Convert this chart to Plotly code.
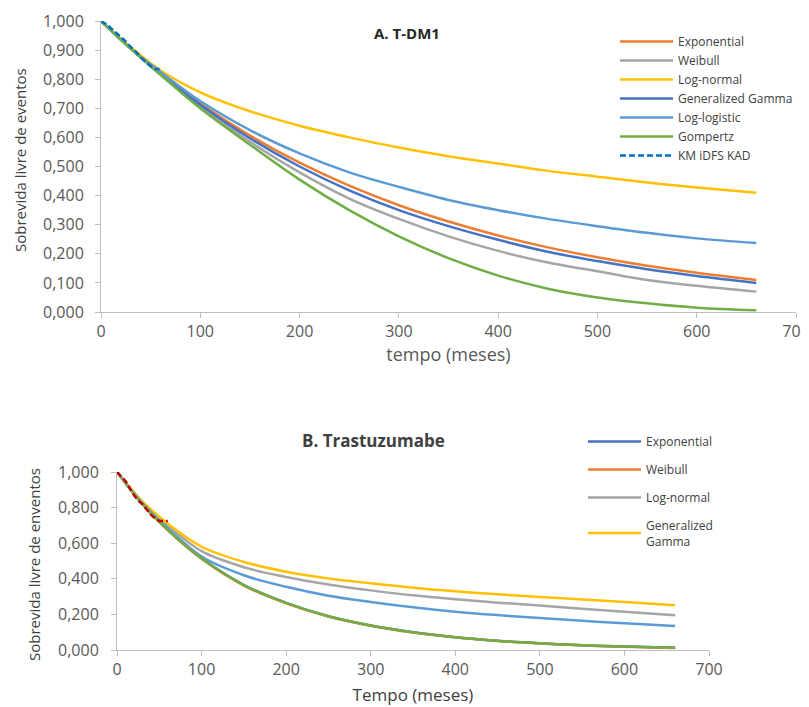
import plotly.graph_objects as go

# ---------------- Data: A. T-DM1 ----------------
t_a = [0, 30, 60, 100, 150, 200, 250, 300, 350, 400, 450, 500, 550, 600, 660]
a_exponential = [1.0, 0.905, 0.818, 0.716, 0.606, 0.513, 0.434, 0.367, 0.311, 0.263, 0.222, 0.188, 0.159, 0.135, 0.110]
a_weibull = [1.0, 0.905, 0.815, 0.705, 0.585, 0.480, 0.390, 0.320, 0.260, 0.210, 0.170, 0.140, 0.110, 0.090, 0.070]
a_lognormal = [1.0, 0.910, 0.830, 0.755, 0.690, 0.640, 0.600, 0.565, 0.535, 0.510, 0.485, 0.465, 0.445, 0.428, 0.410]
a_gengamma = [1.0, 0.905, 0.817, 0.712, 0.597, 0.500, 0.418, 0.350, 0.295, 0.248, 0.207, 0.175, 0.147, 0.124, 0.100]
a_loglogistic = [1.0, 0.905, 0.825, 0.725, 0.625, 0.545, 0.480, 0.430, 0.385, 0.350, 0.320, 0.295, 0.272, 0.253, 0.237]
a_gompertz = [1.0, 0.905, 0.815, 0.700, 0.575, 0.455, 0.350, 0.260, 0.185, 0.125, 0.080, 0.050, 0.030, 0.015, 0.006]
km_a_t = [0, 5, 10, 15, 20, 25, 30, 35, 40, 45, 50, 55, 59]
km_a_s = [1.0, 0.99, 0.975, 0.96, 0.945, 0.93, 0.91, 0.895, 0.875, 0.86, 0.845, 0.835, 0.835]

# ---------------- Data: B. Trastuzumabe ----------------
t_b = [0, 30, 60, 100, 150, 200, 250, 300, 350, 400, 450, 500, 550, 600, 660]
b_exponential = [1.0, 0.82, 0.675, 0.515, 0.365, 0.265, 0.19, 0.138, 0.1, 0.072, 0.052, 0.038, 0.027, 0.019, 0.012]
b_weibull = [1.0, 0.82, 0.673, 0.512, 0.362, 0.262, 0.188, 0.136, 0.098, 0.071, 0.051, 0.037, 0.026, 0.018, 0.011]
b_lognormal = [1.0, 0.83, 0.70, 0.555, 0.465, 0.41, 0.368, 0.335, 0.307, 0.285, 0.266, 0.25, 0.232, 0.215, 0.195]
b_gengamma = [1.0, 0.835, 0.71, 0.58, 0.495, 0.44, 0.402, 0.375, 0.35, 0.33, 0.313, 0.298, 0.284, 0.27, 0.252]
b_loglogistic = [1.0, 0.825, 0.685, 0.525, 0.42, 0.355, 0.305, 0.27, 0.24, 0.215, 0.196, 0.18, 0.164, 0.15, 0.135]
b_gompertz = [1.0, 0.82, 0.675, 0.515, 0.365, 0.265, 0.19, 0.138, 0.1, 0.072, 0.052, 0.038, 0.027, 0.019, 0.012]
km_b_t = [0, 5, 10, 15, 20, 25, 30, 35, 40, 45, 50, 60]
km_b_s = [1.0, 0.975, 0.95, 0.91, 0.87, 0.84, 0.82, 0.79, 0.76, 0.74, 0.725, 0.725]

C_ORANGE = "#ED7D31"
C_GRAY = "#A5A5A5"
C_YELLOW = "#FFC000"
C_DBLUE = "#4472C4"
C_LBLUE = "#5B9BD5"
C_GREEN = "#70AD47"
C_KM_A = "#0070C0"
C_KM_B = "#C00000"

FONT = "'Open Sans', Lato, sans-serif"
TXT = "#595959"
DARK = "#404040"
LW = 2.5
KM_DASH = "6px,3px"

fig = go.Figure()

def add(x, y, name, color, xa, ya, legend, show=True, group=None):
    fig.add_trace(go.Scatter(
        x=x, y=y, name=name, mode="lines", line_shape="spline",
        line=dict(color=color, width=LW),
        xaxis=xa, yaxis=ya, legend=legend, showlegend=show,
        legendgroup=group))

# Panel A
add(t_a, a_exponential, "Exponential", C_ORANGE, "x", "y", "legend")
add(t_a, a_weibull, "Weibull", C_GRAY, "x", "y", "legend")
add(t_a, a_lognormal, "Log-normal", C_YELLOW, "x", "y", "legend")
add(t_a, a_gengamma, "Generalized Gamma", C_DBLUE, "x", "y", "legend")
add(t_a, a_loglogistic, "Log-logistic", C_LBLUE, "x", "y", "legend")
add(t_a, a_gompertz, "Gompertz", C_GREEN, "x", "y", "legend")
fig.add_trace(go.Scatter(x=km_a_t, y=km_a_s, name="KM iDFS KAD", mode="lines",
                         line=dict(color=C_KM_A, width=LW, dash=KM_DASH),
                         xaxis="x", yaxis="y", legend="legend"))

# Panel B
add(t_b, b_exponential, "Exponential", C_DBLUE, "x2", "y2", "legend2", group="e")
add(t_b, b_weibull, "Weibull", C_ORANGE, "x2", "y2", "legend2", group="w")
add(t_b, b_lognormal, "Log-normal", C_GRAY, "x2", "y2", "legend2", group="l")
add(t_b, b_gengamma, "Generalized<br>Gamma", C_YELLOW, "x2", "y2", "legend2", group="g")
add(t_b, b_loglogistic, "Log-logistic", C_LBLUE, "x2", "y2", "legend2", show=False)
add(t_b, b_gompertz, "Gompertz", C_GREEN, "x2", "y2", "legend2", show=False)
fig.add_trace(go.Scatter(x=km_b_t, y=km_b_s, name="KM", mode="lines",
                         line=dict(color=C_KM_B, width=LW, dash=KM_DASH),
                         xaxis="x2", yaxis="y2", legend="legend2", showlegend=False))

W, H = 809, 707
OFF = 8  # page body margin offset
def px(x): return (x - OFF) / W
def py(y): return 1 - (y - OFF) / H

axis_common = dict(showgrid=False, zeroline=False, showline=True, linecolor="#BFBFBF",
                   linewidth=1, ticks="outside", ticklen=5, tickcolor="#BFBFBF",
                   automargin=False,
                   tickfont=dict(family=FONT, size=16, color=TXT))

fig.update_layout(
    width=W, height=H, margin=dict(l=0, r=0, t=0, b=0),
    paper_bgcolor="white", plot_bgcolor="white",
    separators=",.",
    font=dict(family=FONT, color=TXT),
    xaxis=dict(domain=[px(101), px(796)], range=[0, 700], dtick=100, anchor="y",
               title=dict(text="tempo (meses)", font=dict(family=FONT, size=18, color=TXT), standoff=4),
               **axis_common),
    yaxis=dict(domain=[py(312), py(21)], range=[0, 1], dtick=0.1, tickformat=".3f", anchor="x",
               ticklabelstandoff=8, **axis_common),
    xaxis2=dict(domain=[px(117), px(709)], range=[0, 700], dtick=100, anchor="y2",
                title=dict(text="Tempo (meses)", font=dict(family=FONT, size=17, color=DARK), standoff=9),
                **axis_common),
    yaxis2=dict(domain=[py(650), py(472)], range=[0, 1], dtick=0.2, tickformat=".3f", anchor="x2",
                ticklabelstandoff=9, **axis_common),
    legend=dict(x=px(615), y=py(27), xanchor="left", yanchor="top",
                bgcolor="rgba(0,0,0,0)", font=dict(family=FONT, size=12, color=DARK),
                itemwidth=53, traceorder="normal"),
    legend2=dict(x=px(583), y=py(427), xanchor="left", yanchor="top",
                 bgcolor="rgba(0,0,0,0)", font=dict(family=FONT, size=12, color=DARK),
                 itemwidth=53, traceorder="grouped", tracegroupgap=9),
    annotations=[
        dict(text="<b>A. T-DM1</b>", x=px(407), y=py(33), xref="paper", yref="paper",
             xanchor="center", yanchor="middle",
             showarrow=False, font=dict(family=FONT, size=15, color="#262626")),
        dict(text="<b>B. Trastuzumabe</b>", x=px(373), y=py(440), xref="paper", yref="paper",
             xanchor="center", yanchor="middle",
             showarrow=False, font=dict(family=FONT, size=17, color=DARK)),
        dict(text="Sobrevida livre de eventos", x=px(20), y=py(160), xref="paper", yref="paper",
             xanchor="center", yanchor="middle", textangle=-90,
             showarrow=False, font=dict(family=FONT, size=15, color=DARK)),
        dict(text="Sobrevida livre de enventos", x=px(34), y=py(565), xref="paper", yref="paper",
             xanchor="center", yanchor="middle", textangle=-90,
             showarrow=False, font=dict(family=FONT, size=15, color=DARK)),
    ],
)

fig.write_html("out.html")
